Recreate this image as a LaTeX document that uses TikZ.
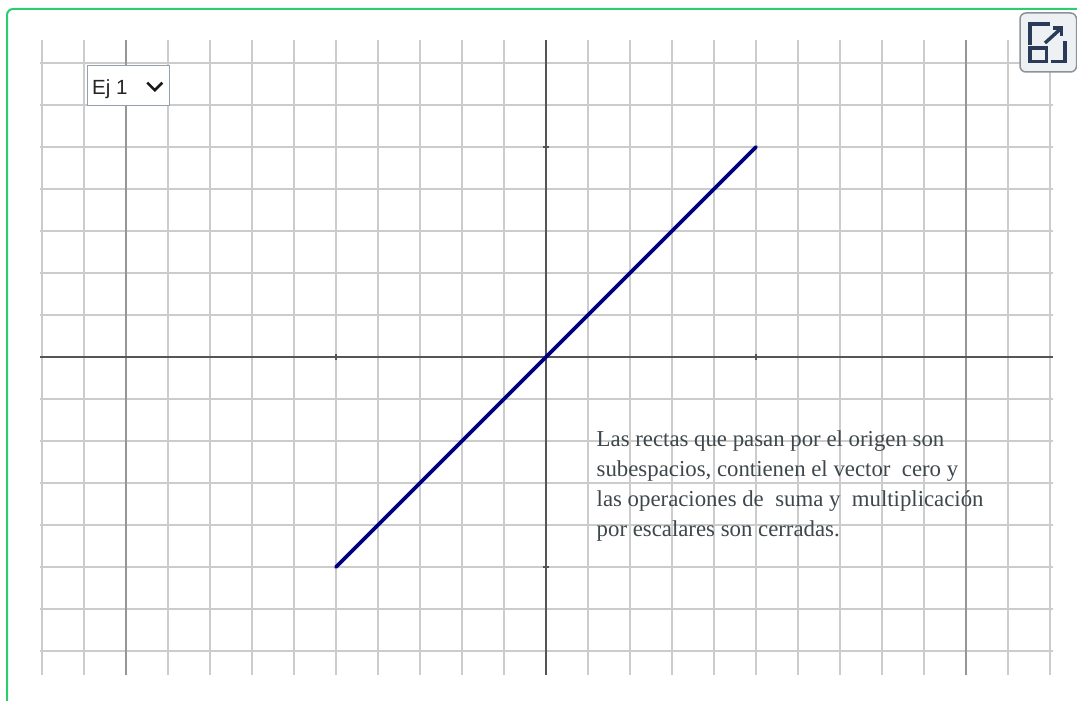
\documentclass[tikz,border=0pt]{standalone}
\usepackage{fontspec}
\setmainfont{Liberation Serif}
\newfontfamily\uifont{Liberation Sans}
\usetikzlibrary{positioning,calc}
\definecolor{frameg}{RGB}{46,204,113}
\definecolor{gridg}{RGB}{204,204,204}
\definecolor{majorg}{RGB}{150,150,150}
\definecolor{axisg}{RGB}{85,85,85}
\definecolor{navyline}{RGB}{0,0,128}
\definecolor{notegray}{RGB}{62,72,76}
\definecolor{btnfill}{RGB}{238,241,244}
\definecolor{btndraw}{RGB}{140,146,152}
\definecolor{iconblue}{RGB}{42,58,88}
\definecolor{selborder}{RGB}{150,160,172}
\tikzset{
  greenframe/.style = {draw=frameg, line width=2pt, rounded corners=6pt},
  minorline/.style  = {draw=gridg, line width=1.4pt},
  majorline/.style  = {draw=majorg, line width=1.4pt},
  axisline/.style   = {draw=axisg, line width=1.4pt},
  vecline/.style    = {draw=navyline, line width=3.6pt, line cap=round},
  note/.style       = {align=left, inner sep=0pt, text=notegray,
                       font=\fontsize{22.8}{30}\selectfont},
  selbox/.style     = {draw=selborder, fill=white, line width=1.3pt, inner sep=0pt,
                       minimum width=82pt, minimum height=40pt},
  seltext/.style    = {inner sep=0pt, text=black!85, font=\uifont\fontsize{20.5}{24}\selectfont},
  chevron/.style    = {draw=black!90, line width=2.6pt},
  btn/.style        = {draw=btndraw, fill=btnfill, line width=1.5pt, rounded corners=6pt},
  icon/.style       = {draw=iconblue, line width=3.4pt},
}
\begin{document}
\begin{tikzpicture}[x=1pt,y=-1pt]
\useasboundingbox (0,0) rectangle (1077,701);
\clip (0,0) rectangle (1077,701);
\fill[white] (0,0) rectangle (1077,701);
\draw[greenframe] (7,9) rectangle (1100,730);
% cuadricula
\foreach \k in {-12,...,12}
  \draw[minorline] ({546+42*\k},40) -- ({546+42*\k},675);
\foreach \k in {-7,...,7}
  \draw[minorline] (40,{357+42*\k}) -- (1053,{357+42*\k});
\foreach \k in {-10,10}
  \draw[majorline] ({546+42*\k},40) -- ({546+42*\k},675);
% ejes
\draw[axisline] (40,357) -- (1053,357);
\draw[axisline] (546,40) -- (546,675);
\foreach \k in {-5,5} {
  \draw[axisline] ({546+42*\k},354) -- ({546+42*\k},360);
  \draw[axisline] (543,{357+42*\k}) -- (549,{357+42*\k});
}
% recta
\coordinate (p) at (336,567);
\coordinate (q) at (756,147);
\draw[vecline] (p) -- (q);
\node[note, anchor=base west] (nota) at (596.5,536.5)
  {Las rectas que pasan por el origen son\\subespacios, contienen el vector\ \ cero y\\las operaciones de\ \ suma y\ \ multiplicación\\por escalares son cerradas.};
% selector
\node[selbox, anchor=north west] (sel) at (87,65) {};
\node[seltext, anchor=base west] (ej) at (92,95) {Ej 1};
\draw[chevron] ($(sel.east)+(-23,-3)$) -- ($(sel.east)+(-15.5,4.5)$) -- ($(sel.east)+(-8,-3)$);
% boton
\draw[btn] (1020,13) rectangle (1076.5,72);
\draw[icon] (1050,24) -- (1030,24) -- (1030,44.7);
\draw[icon] (1030,48) rectangle (1046.5,61.3);
\draw[icon] (1065,41.3) -- (1065,61.3) -- (1051,61.3);
\draw[icon] (1045,43) -- (1061.5,28);
\draw[icon] (1053,28) -- (1061.5,28) -- (1061.5,36.5);
\end{tikzpicture}
\end{document}
